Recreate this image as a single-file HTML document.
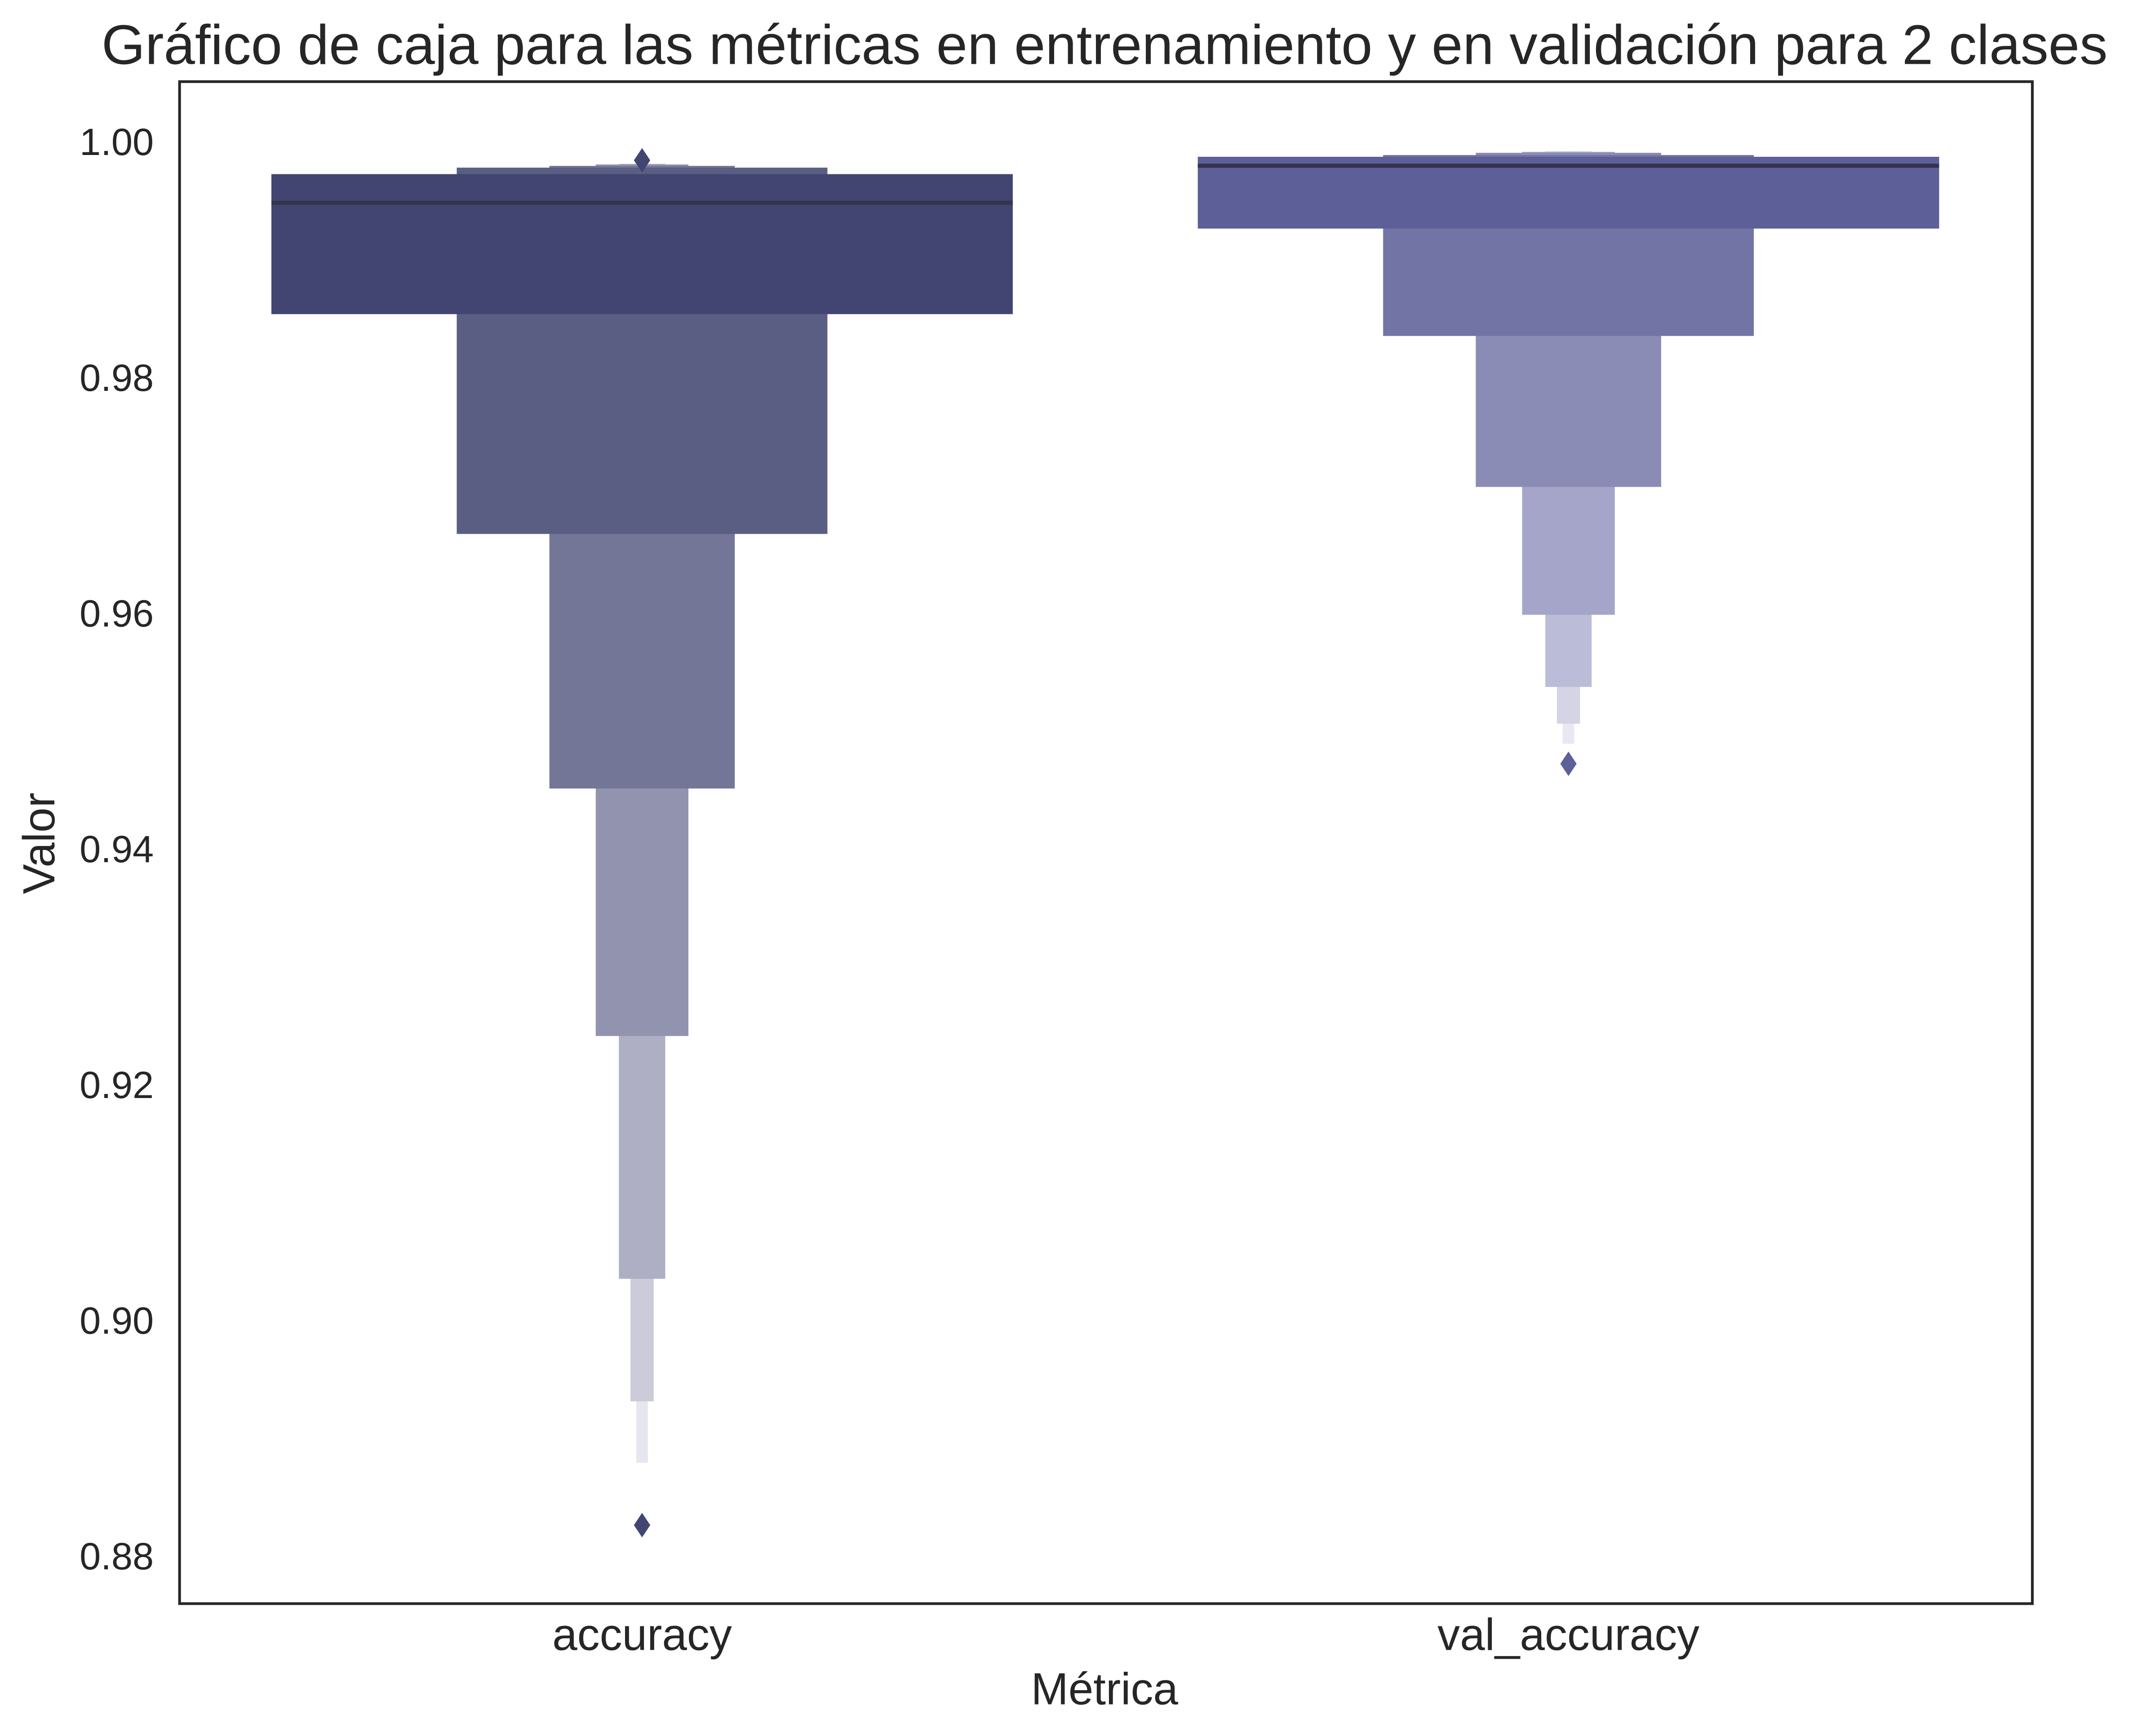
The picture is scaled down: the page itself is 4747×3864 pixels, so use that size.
<!DOCTYPE html>
<html><head><meta charset="utf-8"><style>
html,body{margin:0;padding:0;background:#fff}
svg{display:block}
text{font-family:"Liberation Sans",Arial,sans-serif;fill:#262626}
</style></head><body>
<svg id="chart" width="4747" height="3864" viewBox="0 0 1568 1276.3" xmlns="http://www.w3.org/2000/svg">
<rect width="1568" height="1276.3" fill="#fff"/>
<text x="812" y="47" font-size="41.2" text-anchor="middle">Gráfico de caja para las métricas en entrenamiento y en validación para 2 clases</text>
<g id="plot"></g>
<rect x="132" y="60" width="1362" height="1119" fill="none" stroke="#262626" stroke-width="2"/>
<text x="812" y="1253" font-size="33" text-anchor="middle">Métrica</text>
<text transform="translate(40,620) rotate(-90)" font-size="33" text-anchor="middle">Valor</text>
</svg>
<script>
const categories = ["accuracy", "val_accuracy"];
const accLower = [0.98535, 0.9667, 0.9451, 0.9241, 0.9035, 0.8931, 0.8879];
const accUpper = [0.99723, 0.99778, 0.99793, 0.99805, 0.9981, 0.9981, 0.9981];
const valLower = [0.99261, 0.9835, 0.97069, 0.95984, 0.95372, 0.9506, 0.9489];
const valUpper = [0.9987, 0.99885, 0.99904, 0.99912, 0.99915, 0.99915, 0.99915];
const medians = [0.9948, 0.99794];
const outliers = [[0.8826, 0.9984], [0.9472]];
const yTicks = [0.88, 0.90, 0.92, 0.94, 0.96, 0.98, 1.00];
const accColors = ["#424571","#5b5e83","#747697","#9293ae","#aeaec5","#cbcbda","#e6e6ee"];
const valColors = ["#5c5f98","#7374a6","#8b8cb5","#a4a5c8","#bbbcd8","#d4d4e5","#e8e8f1"];
const outColors = ["#424571","#5c5f98"];

const NS = "http://www.w3.org/2000/svg";
const plot = document.getElementById("plot");
const svgEl = document.getElementById("chart");
function y(v){ return 104 + (1 - v) / 0.02 * 173.3; }
function x(i){ return 472 + i * 681; }
function mk(tag, attrs){ const e = document.createElementNS(NS, tag); for (const k in attrs) e.setAttribute(k, attrs[k]); return e; }

yTicks.forEach(t => {
  const tx = mk("text", {x: 113, y: y(t) + 10, "font-size": 28, "text-anchor": "end"});
  
  
  tx.textContent = t.toFixed(2);
  svgEl.appendChild(tx);
});
categories.forEach((c, i) => {
  const tx = mk("text", {x: x(i), y: 1213, "font-size": 33, "text-anchor": "middle"});
  
  
  tx.textContent = c;
  svgEl.appendChild(tx);
});

const series = [[accLower, accUpper, accColors], [valLower, valUpper, valColors]];
series.forEach((s, i) => {
  const [lo, hi, cols] = s;
  for (let k = lo.length - 1; k >= 0; k--) {
    const w = 545 / Math.pow(2, k);
    const r = mk("rect", {x: x(i) - w / 2, y: y(hi[k]), width: w, height: y(lo[k]) - y(hi[k]), fill: cols[k]});
    
    
    plot.appendChild(r);
  }
  const m = mk("line", {x1: x(i) - 272.5, x2: x(i) + 272.5, y1: y(medians[i]), y2: y(medians[i]), stroke: "#34344e", "stroke-width": 3});
  
  
  plot.appendChild(m);
  outliers[i].forEach(o => {
    const cy = y(o);
    const p = mk("path", {d: `M${x(i)} ${cy-9}L${x(i)+6} ${cy}L${x(i)} ${cy+9}L${x(i)-6} ${cy}Z`, fill: outColors[i]});
    
    
    plot.appendChild(p);
  });
});
</script>
</body></html>
